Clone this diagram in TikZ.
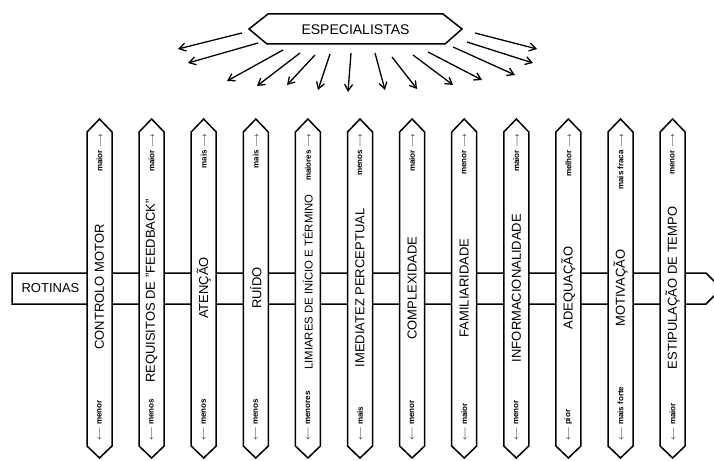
\documentclass[tikz,border=0pt]{standalone}
\usepackage{fontspec}
\setmainfont{Liberation Sans}
\usetikzlibrary{arrows.meta}
\begin{document}
\begin{tikzpicture}[x=1pt,y=-1pt,
  line join=miter,
  rim/.style={line width=1.5pt},
  fan/.style={line width=1.3pt,-{Straight Barb[length=6.5pt,width=8pt,line width=1.3pt]}},
  titletext/.style={rotate=90,inner sep=0pt},
  lbl/.style={rotate=90,font=\fontsize{8}{8}\selectfont\bfseries,inner sep=0pt},
]
\useasboundingbox (0,0) rectangle (714,460);
\clip (0,0) rectangle (714,460);

% header box
\draw[rim] (249,29) -- (268,14) -- (443,14) -- (462,29) -- (445,44) -- (267,44) -- cycle;
\node[font=\fontsize{14}{14}\selectfont] (esp) at (355.5,29.5) {ESPECIALISTAS};

% fan of arrows below the header
\foreach \a/\b/\c/\d [count=\k] in {
  242/33/178/49, 258/43/188/63, 283/50/227/81, 300/53/257/86,
  315/55/287/85, 330/54/318/90, 351/53/348/92, 375/53/385/90,
  392/57/417/89, 413/55/453/85, 428/52/482/80, 453/47/515/75,
  467/42/533/63, 475/33/537/49} {
  \coordinate (f\k) at (\a,\b);
  \coordinate (g\k) at (\c,\d);
  \draw[fan] (f\k) -- (g\k);
}

% horizontal band with the routines box and arrow end
\draw[rim] (12,273) -- (706,273) -- (721.5,288.5) -- (706,304) -- (12,304) -- cycle;
\draw[rim] (87.5,273) -- (87.5,304);
\node[font=\fontsize{13}{13}\selectfont] (rot) at (50.5,288.5) {ROTINAS};

% vertical bars
\foreach \i/\t/\u/\d/\fs/\ty in {
  1/CONTROLO MOTOR/maior/menor/13/287,
  2/REQUISITOS DE \symbol{34}FEEDBACK\symbol{34}/maior/menos/13/291,
  3/ATENÇÃO/mais/menos/13/288,
  4/RUÍDO/mais/menos/13/288,
  5/LIMIARES DE INÍCIO E TÉRMINO/maiores/menores/11.3/282,
  6/IMEDIATEZ PERCEPTUAL/menos/mais/13/288,
  7/COMPLEXIDADE/maior/menor/13/288,
  8/FAMILIARIDADE/menor/maior/13/288,
  9/INFORMACIONALIDADE/maior/menor/13/288,
  10/ADEQUAÇÃO/melhor/pior/13/288,
  11/MOTIVAÇÃO/mais fraca/mais forte/13/288,
  12/ESTIPULAÇÃO DE TEMPO/menor/maior/13/288} {
  \pgfmathsetmacro\cx{99.5+52.1*(\i-1)}
  \draw[rim,fill=white] (\cx-12.5,132) -- (\cx,119) -- (\cx+12.5,132)
     -- (\cx+12.5,446) -- (\cx,458) -- (\cx-12.5,446) -- cycle;
  \node[titletext,font=\fontsize{\fs}{\fs}\selectfont] (t\i) at (\cx,\ty) {\t};
  \node[lbl,anchor=east] (u\i) at (\cx,134) {\u\ $\longrightarrow$};
  \node[lbl,anchor=west] (d\i) at (\cx,441) {$\longleftarrow$ \d};
}
\end{tikzpicture}
\end{document}
